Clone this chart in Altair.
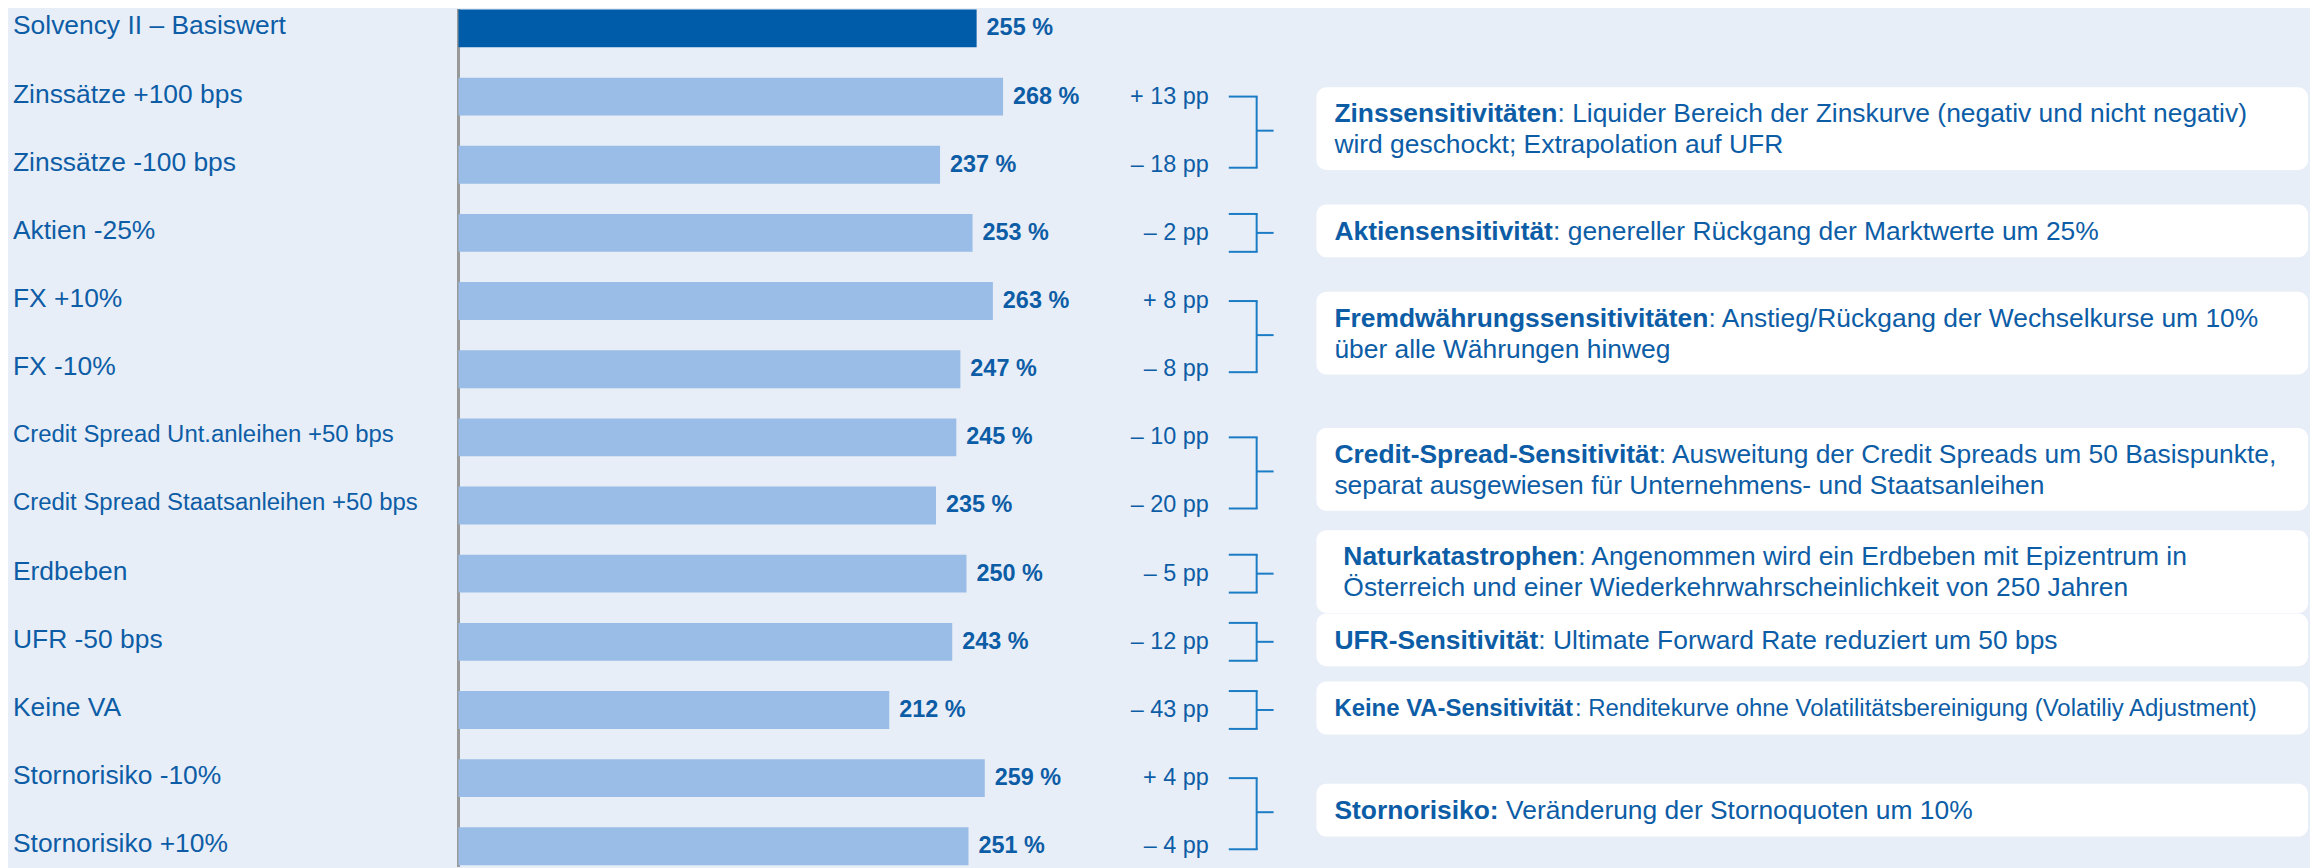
import altair as alt
import pandas as pd

# ---------------- data ----------------
labels = [
    "Solvency II – Basiswert", "Zinssätze +100 bps", "Zinssätze -100 bps", "Aktien -25%",
    "FX +10%", "FX -10%", "Credit Spread Unt.anleihen +50 bps",
    "Credit Spread Staatsanleihen +50 bps", "Erdbeben", "UFR -50 bps", "Keine VA",
    "Stornorisiko -10%", "Stornorisiko +10%",
]
ratios = [255, 268, 237, 253, 263, 247, 245, 235, 250, 243, 212, 259, 251]
deltas = [None, 13, -18, -2, 8, -8, -10, -20, -5, -12, -43, 4, -4]

box_titles = [
    "Zinssensitivitäten", "Aktiensensitivität", "Fremdwährungssensitivitäten",
    "Credit-Spread-Sensitivität", "Naturkatastrophen", "UFR-Sensitivität",
    "Keine VA-Sensitivität", "Stornorisiko:",
]
box_rest1 = [
    ": Liquider Bereich der Zinskurve (negativ und nicht negativ)",
    ": genereller Rückgang der Marktwerte um 25%",
    ": Anstieg/Rückgang der Wechselkurse um 10%",
    ": Ausweitung der Credit Spreads um 50 Basispunkte,",
    ": Angenommen wird ein Erdbeben mit Epizentrum in",
    ": Ultimate Forward Rate reduziert um 50 bps",
    ": Renditekurve ohne Volatilitätsbereinigung (Volatiliy Adjustment)",
    " Veränderung der Stornoquoten um 10%",
]
box_line2 = [
    "wird geschockt; Extrapolation auf UFR", "", "über alle Währungen hinweg",
    "separat ausgewiesen für Unternehmens- und Staatsanleihen",
    "Österreich und einer Wiederkehrwahrscheinlichkeit von 250 Jahren", "", "", "",
]
box_first_row = [1, 3, 4, 6, 8, 9, 10, 11]
box_last_row = [2, 3, 5, 7, 8, 9, 10, 12]

# ---------------- style / layout ----------------
FONT = "Liberation Sans"
BG = "#E8EEF7"
DARK = "#005CA9"
LIGHT = "#99BDE6"
TXT = "#0D5DA6"
BR = "#1B7CC5"
W, H = 2310, 860
ROW0, ROWN = 19.0, 839.7
STEP = (ROWN - ROW0) / 12
X0, X255 = 452, 972
PXU = (X255 - X0) / 255.0
xs = alt.Scale(domain=[0, 255], range=[X0, X255], nice=False, zero=False, padding=0)
ys = alt.Scale(domain=[0, 12], range=[ROW0, ROWN], nice=False, zero=False, padding=0)

REG = dict(zip("ABCDEFGHIJKLMNOPQRSTUVWXYZ",
               [667, 667, 722, 722, 667, 611, 778, 722, 278, 500, 667, 556, 833, 722, 778, 667, 778, 722, 667, 611, 722, 667, 944, 667, 667, 611]))
REG.update(zip("abcdefghijklmnopqrstuvwxyz",
               [556, 556, 500, 556, 556, 278, 556, 556, 222, 222, 500, 222, 833, 556, 556, 556, 556, 333, 500, 278, 556, 500, 722, 500, 500, 500]))
REG.update({" ": 278, "(": 333, ")": 333, ",": 278, "-": 333, ".": 278, "/": 278, ":": 278,
            ";": 278, "%": 889, "+": 584, "–": 556, "ä": 556, "ö": 556, "ü": 556, "Ö": 778})
BOLD = dict(zip("ABCDEFGHIJKLMNOPQRSTUVWXYZ",
                [722, 722, 722, 722, 667, 611, 778, 722, 278, 556, 722, 611, 833, 722, 778, 667, 778, 722, 667, 611, 722, 667, 944, 667, 667, 611]))
BOLD.update(zip("abcdefghijklmnopqrstuvwxyz",
                [556, 611, 556, 611, 556, 333, 611, 611, 278, 278, 556, 278, 889, 611, 611, 611, 611, 389, 556, 333, 611, 556, 778, 556, 556, 500]))
BOLD.update({" ": 278, "-": 333, ":": 333, "ä": 556, "ö": 611, "ü": 611})


def text_w(s, bold, fs):
    tab = BOLD if bold else REG
    return sum(tab.get(c, 556) for c in s) * fs / 1000.0


def px_to_x(px):
    return (px - X0) / PXU


# ---------------- tables ----------------
rows = pd.DataFrame({"idx": list(range(len(labels))), "label": labels, "ratio": ratios})
rows["vlabel"] = [f"{r} %" for r in ratios]
rows["zero"] = 0
pp = pd.DataFrame({"idx": list(range(1, len(labels))),
                   "pp": [(f"+ {d} pp" if d > 0 else f"– {abs(d)} pp") for d in deltas[1:]]})

br_recs, box_recs, seg_recs = [], [], []
for i, (a, b) in enumerate(zip(box_first_row, box_last_row)):
    TX = 1340 if box_titles[i].startswith("Natur") else 1331
    single = a == b
    top = a - (19 / STEP if single else 0)
    bot = b + (19 / STEP if single else 3 / STEP)
    mid = (a + b) / 2
    br_recs.append({"top": top, "bot": bot, "mid": mid})
    nlines = 2 if box_line2[i] else 1
    half = (11.5 + 15 * nlines) / STEP
    box_recs.append({"btop": mid - half - 2 / STEP, "bbot": mid + half - 2 / STEP})
    fs = 24 if i == 6 else 26.5
    l1y = mid - (nlines - 1) / 2 * 31 / STEP - 1 / STEP
    seg_recs.append({"tx": px_to_x(TX), "ty": l1y, "text": box_titles[i], "bold": 1, "fs": fs})
    rest = box_rest1[i]
    lead = len(rest) - len(rest.lstrip(" "))
    seg_recs.append({"tx": px_to_x(TX + text_w(box_titles[i], True, fs) + lead * 0.278 * fs),
                     "ty": l1y, "text": rest.lstrip(" "), "bold": 0, "fs": fs})
    if box_line2[i]:
        seg_recs.append({"tx": px_to_x(TX), "ty": l1y + 31 / STEP, "text": box_line2[i],
                         "bold": 0, "fs": fs})

br = pd.DataFrame(br_recs)
boxes = pd.DataFrame(box_recs)
segs = pd.DataFrame(seg_recs)


# ---------------- layers ----------------
def Y(f):
    return alt.Y(f, scale=ys, axis=None)


def X(f):
    return alt.X(f, scale=xs, axis=None)


axis_line = alt.Chart(rows).mark_rule(color="#999999", strokeWidth=2).encode(
    x=X("zero:Q"), y=alt.value(0), y2=alt.value(H))

bars = alt.Chart(rows).mark_bar(orient="horizontal", size=38).encode(
    x=X("ratio:Q"),
    x2="zero:Q",
    y=Y("idx:Q"),
    color=alt.condition("datum.idx == 0", alt.value(DARK), alt.value(LIGHT)),
)

vals = alt.Chart(rows).mark_text(align="left", baseline="middle", dx=10, fontWeight="bold",
                                 fontSize=23.5, color=TXT, font=FONT).encode(
    x=X("ratio:Q"), y=Y("idx:Q"), text="vlabel:N")

lab_big = alt.Chart(rows).transform_filter("indexof(datum.label, 'Credit') < 0").mark_text(
    align="left", baseline="middle", dy=-2, color=TXT, font=FONT, fontSize=26.5).encode(
    x=alt.value(5), y=Y("idx:Q"), text="label:N")
lab_small = alt.Chart(rows).transform_filter("indexof(datum.label, 'Credit') >= 0").mark_text(
    align="left", baseline="middle", dy=-2, color=TXT, font=FONT, fontSize=24).encode(
    x=alt.value(5), y=Y("idx:Q"), text="label:N")

pps = alt.Chart(pp).mark_text(align="right", baseline="middle", fontSize=23.5,
                              color=TXT, font=FONT).encode(
    x=alt.value(1205), y=Y("idx:Q"), text="pp:N")

vline = alt.Chart(br).mark_rule(color=BR, strokeWidth=2).encode(
    x=alt.value(1253), y=Y("top:Q"), y2="bot:Q")
tick_top = alt.Chart(br).mark_rule(color=BR, strokeWidth=2).encode(
    x=alt.value(1225), x2=alt.value(1254), y=Y("top:Q"))
tick_bot = alt.Chart(br).mark_rule(color=BR, strokeWidth=2).encode(
    x=alt.value(1225), x2=alt.value(1254), y=Y("bot:Q"))
tick_mid = alt.Chart(br).mark_rule(color=BR, strokeWidth=2).encode(
    x=alt.value(1253), x2=alt.value(1270), y=Y("mid:Q"))

rects = alt.Chart(boxes).mark_rect(color="white", cornerRadius=10).encode(
    x=alt.value(1313), x2=alt.value(2308), y=Y("btop:Q"), y2="bbot:Q")

seg_layers = []
for bold in (1, 0):
    for fs in (26.5, 24):
        sel = segs[(segs["bold"] == bold) & (segs["fs"] == fs)]
        if len(sel) == 0:
            continue
        seg_layers.append(
            alt.Chart(sel[["tx", "ty", "text"]]).mark_text(
                align="left", baseline="middle", fontWeight="bold" if bold else "normal",
                fontSize=fs, color=TXT, font=FONT).encode(
                x=X("tx:Q"), y=Y("ty:Q"), text="text:N"))

chart = alt.layer(
    axis_line, bars, vals, lab_big, lab_small, pps, vline, tick_top, tick_bot, tick_mid, rects,
    *seg_layers
).properties(
    width=W, height=H, padding=0, background=BG,
    autosize=alt.AutoSizeParams(type="none"),
).configure_view(strokeWidth=0)

chart.save("out.html", embed_options={"renderer": "svg", "actions": False})
